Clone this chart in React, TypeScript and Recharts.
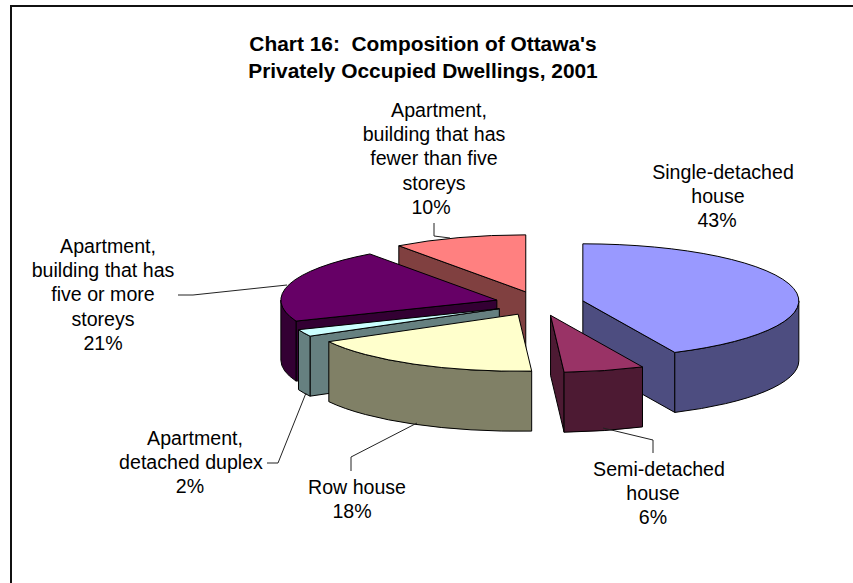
import React from 'react';
import { PieChart, Pie } from 'recharts';

// Draw order runs counter-clockwise from the first slice so nearer slices paint last.
const categories = [
  'Single-detached house',
  'Apartment, building that has fewer than five storeys',
  'Apartment, building that has five or more storeys',
  'Apartment, detached duplex',
  'Row house',
  'Semi-detached house',
];
const shares = [43, 10, 21, 2, 18, 6];
const titleLines = ["Chart 16:  Composition of Ottawa's", 'Privately Occupied Dwellings, 2001'];
const labelLines = [
  ['Single-detached', 'house'],
  ['Apartment,', 'building that has', 'fewer than five', 'storeys'],
  ['Apartment,', 'building that has', 'five or more', 'storeys'],
  ['Apartment,', 'detached duplex'],
  ['Row house'],
  ['Semi-detached', 'house'],
];
const topColors = ['#9999FF', '#FF8080', '#660066', '#CCFFFF', '#FFFFCC', '#993366'];
const sideColors = ['#4D4D80', '#804040', '#330033', '#668080', '#808066', '#4D1A33'];

// Layout only: label centres/baselines and leader lines
const labelX = [[723, 718, 717], [439, 434, 434, 434, 431], [108, 103, 103, 103, 103], [195, 191, 190], [357, 352], [659, 653, 653]];
const labelY = [179, 117, 253, 445, 494, 476];
const leaders = [
  null,
  '434,223 434,236 450,238',
  '178,295 193,295 287,285',
  '267,463 278,463 306,393',
  '351,471 351,457 417,423',
  '603,428 653,440 653,453',
];

const W = 853;
const H = 583;
const CX = 539.5;
const CY = 303.5;
const RX = 216;
const FLAT = 0.264;
const DEPTH = 60;
const EXPLODE_X = 44.4;
const EXPLODE_Y = 12.2;
const FONT = '"Liberation Sans", Arial, sans-serif';

const rad = (d: number) => (d * Math.PI) / 180;

function Slice3D(props: any) {
  const { startAngle, endAngle, outerRadius, cx, cy, payload, index } = props;
  const i = payload?.idx ?? index;
  let a = 90 - endAngle;
  let b = 90 - startAngle;
  if (a < -1e-6) { a += 360; b += 360; }
  const rx = outerRadius;
  const ry = outerRadius * FLAT;
  const mid = (a + b) / 2;
  const ox = cx + EXPLODE_X * Math.sin(rad(mid));
  const oy = cy - EXPLODE_Y * Math.cos(rad(mid));
  const pt = (t: number) => [ox + rx * Math.sin(rad(t)), oy - ry * Math.cos(rad(t))];
  const [ax, ay] = pt(a);
  const [bx, by] = pt(b);
  const large = b - a > 180 ? 1 : 0;
  const top = `M${ox},${oy} L${ax},${ay} A${rx},${ry} 0 ${large} 1 ${bx},${by} Z`;
  const radial = (x: number, y: number) =>
    `M${ox},${oy} L${x},${y} L${x},${y + DEPTH} L${ox},${oy + DEPTH} Z`;
  const faces: string[] = [];
  if (Math.sin(rad(a)) < -1e-6) faces.push(radial(ax, ay));
  if (Math.sin(rad(b)) > 1e-6) faces.push(radial(bx, by));
  const r1 = Math.max(a, 90);
  const r2 = Math.min(b, 270);
  if (r2 > r1) {
    const [x1, y1] = pt(r1);
    const [x2, y2] = pt(r2);
    faces.push(
      `M${x1},${y1} A${rx},${ry} 0 0 1 ${x2},${y2} L${x2},${y2 + DEPTH} A${rx},${ry} 0 0 0 ${x1},${y1 + DEPTH} Z`,
    );
  }
  return (
    <g>
      {faces.map((d, k) => (
        <path key={k} d={d} fill={sideColors[i]} stroke="#000" strokeWidth={1} strokeLinejoin="round" />
      ))}
      <path d={top} fill={topColors[i]} stroke="#000" strokeWidth={1} strokeLinejoin="round" />
    </g>
  );
}

function SliceLabel(props: any) {
  const i = props.index;
  const lines = [...labelLines[i], `${shares[i]}%`];
  return (
    <g>
      {leaders[i] && <polyline points={leaders[i] as string} fill="none" stroke="#222" strokeWidth={1} />}
      {lines.map((t, k) => (
        <text
          key={k}
          x={labelX[i][k]}
          y={labelY[i] + k * 24.2}
          textAnchor="middle"
          fontFamily={FONT}
          fontSize={19.6}
          fill="#000"
        >
          {t}
        </text>
      ))}
    </g>
  );
}

const tableData = categories.map((name, idx) => ({ name, value: shares[idx], idx }));

export default function App() {
  return (
    <div style={{ position: 'absolute', left: 0, top: 0, width: W, height: H, overflow: 'hidden', background: '#fff' }}>
      <div style={{ position: 'absolute', left: 10, top: 5, width: W, height: H, borderLeft: '2px solid #111', borderTop: '2px solid #111' }} />
      <div style={{ position: 'absolute', left: 0, top: 0 }}>
        <PieChart width={W} height={H} margin={{ top: 0, right: 0, bottom: 0, left: 0 }}>
          {titleLines.map((t, k) => (
            <text
              key={k}
              x={423}
              y={50.7 + k * 27}
              textAnchor="middle"
              fontFamily={FONT}
              fontSize={20.9}
              fontWeight="bold"
              fill="#000"
              style={{ whiteSpace: 'pre' }}
            >
              {t}
            </text>
          ))}
          <Pie
            data={tableData}
            dataKey="value"
            nameKey="name"
            cx={CX}
            cy={CY}
            innerRadius={0}
            outerRadius={RX}
            startAngle={-64.8}
            endAngle={295.2}
            paddingAngle={0}
            isAnimationActive={false}
            shape={Slice3D}
            label={SliceLabel}
            labelLine={false}
          />
        </PieChart>
      </div>
    </div>
  );
}
